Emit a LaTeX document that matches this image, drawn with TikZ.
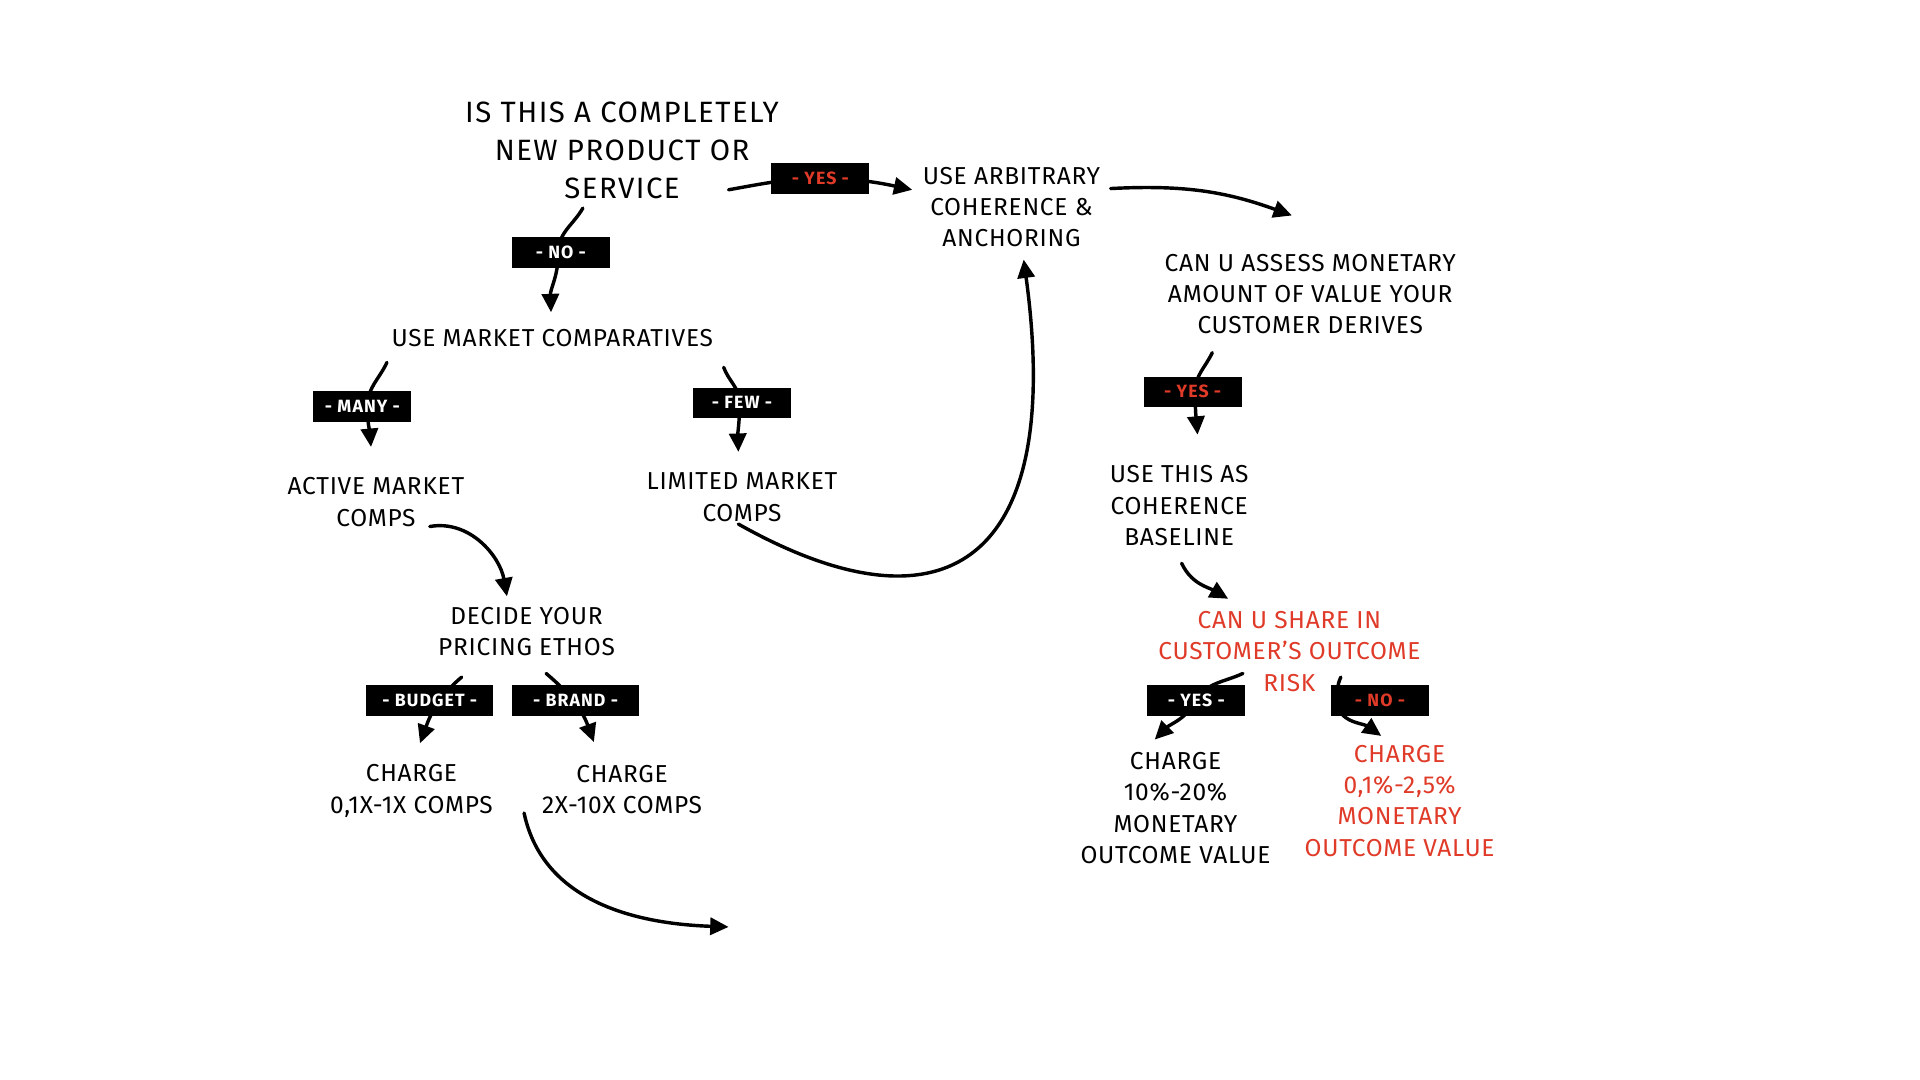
\documentclass[tikz,border=0pt]{standalone}
\usepackage{fontspec}
\setmainfont{Fira Sans}[LetterSpace=3]
\newfontfamily\ttlfont{Fira Sans}[LetterSpace=5]
\newfontfamily\labfont{Fira Sans}[LetterSpace=6]
\usetikzlibrary{arrows.meta,calc}
\definecolor{hred}{RGB}{224,58,40}
\pgfdeclarelayer{back}\pgfdeclarelayer{bg}\pgfsetlayers{back,bg,main}
\begin{document}
\begin{tikzpicture}[x=1pt,y=1pt,
  txt/.style={align=center,inner sep=0pt,font=\fontsize{20}{25.5}\selectfont},
  ttl/.style={align=center,inner sep=0pt,font=\ttlfont\fontsize{24}{31}\selectfont},
  lab/.style={fill=black,text=white,minimum width=80pt,minimum height=25pt,inner sep=0pt,font=\labfont\fontsize{14.5}{15}\selectfont\bfseries},
  wide/.style={minimum width=104pt},
  arr/.style={line width=2.8pt,line cap=round,-{Triangle[length=15pt,width=14pt]}}]
\begin{pgfonlayer}{back}
\fill[white] (0,0) rectangle (1568,882);
\end{pgfonlayer}
\useasboundingbox (0,0) rectangle (1568,882);
% nodes
\node[ttl] (title) at (508,759) {IS THIS A COMPLETELY\\NEW PRODUCT OR\\SERVICE};
\node[lab,text=hred] (yes1) at (670,736) {- YES -};
\node[txt] (arb) at (826,713) {USE ARBITRARY\\COHERENCE \&\\ANCHORING};
\node[txt] (assess) at (1070,642) {CAN U ASSESS MONETARY\\AMOUNT OF VALUE YOUR\\CUSTOMER DERIVES};
\node[lab,text=hred] (yes2) at (974,562) {- YES -};
\node[txt] (base) at (963,469) {USE THIS AS\\COHERENCE\\BASELINE};
\node[txt,text=hred] (share) at (1053,350) {CAN U SHARE IN\\CUSTOMER’S OUTCOME\\RISK};
\node[lab] (yes3) at (977,310) {- YES -};
\node[lab,text=hred] (no3) at (1127,310) {- NO -};
\node[txt] (pct1) at (960,222) {CHARGE\\10\%-20\%\\MONETARY\\OUTCOME VALUE};
\node[txt,text=hred] (pct2) at (1143,228) {CHARGE\\0,1\%-2,5\%\\MONETARY\\OUTCOME VALUE};
\node[lab] (no1) at (458,676) {- NO -};
\node[txt] (umc) at (451,606) {USE MARKET COMPARATIVES};
\node[lab] (many) at (296,550) {- MANY -};
\node[lab] (few) at (606,553) {- FEW -};
\node[txt] (active) at (307,472) {ACTIVE MARKET\\COMPS};
\node[txt] (limited) at (606,476) {LIMITED MARKET\\COMPS};
\node[txt] (decide) at (430,366) {DECIDE YOUR\\PRICING ETHOS};
\node[lab,wide] (budget) at (351,310) {- BUDGET -};
\node[lab,wide] (brand) at (470,310) {- BRAND -};
\node[txt] (cbud) at (336,236) {CHARGE\\0,1X-1X COMPS};
\node[txt] (cbr) at (508,237) {CHARGE\\2X-10X COMPS};
\coordinate (next) at (595,125);
% connectors
\begin{pgfonlayer}{bg}
\draw[arr] ($(title)+(87,-32)$) to[out=10,in=180] (yes1.center) to[out=0,in=168] ($(arb)+(-81,14)$);
\draw[arr] ($(arb)+(81,15)$) to[out=3,in=160] ($(assess)+(-15,64)$);
\draw[arr] ($(assess)+(-80,-48)$) to[out=-115,in=90] ($(yes2)+(2,0)$) to[out=-90,in=95] ($(base)+(15,58)$);
\draw[arr] ($(base)+(2,-47)$) to[out=-65,in=150] ($(share)+(-50,43)$);
\draw[arr] ($(share)+(-38,-18)$) to[out=-155,in=60] (yes3.center) to[out=-120,in=45] ($(pct1)+(-17,56)$);
\draw[arr] ($(share)+(42,-21)$) to[out=-115,in=90] ($(no3)+(-35,0)$) to[out=-90,in=145] ($(pct2)+(-15,53)$);
\draw[arr] ($(title)+(-32,-47)$) to[out=-120,in=90] ($(no1)+(-2,0)$) to[out=-90,in=92] ($(umc)+(-1,21)$);
\draw[arr] ($(umc)+(-135,-20)$) to[out=-115,in=90] ($(many)+(4,0)$) to[out=-90,in=95] ($(active)+(-4,45)$);
\draw[arr] ($(umc)+(140,-24)$) to[out=-70,in=90] ($(few)+(-2,0)$) to[out=-90,in=92] ($(limited)+(-3,37)$);
\draw[arr] ($(active)+(44,-20)$) to[out=10,in=100] ($(decide)+(-16,29)$);
\draw[arr] ($(limited)+(-3,-22)$) .. controls (770,360) and (870,420) .. ($(arb)+(10,-43)$);
\draw[arr] ($(decide)+(-53,-37)$) to[out=-140,in=70] ($(cbud)+(7,39)$);
\draw[arr] ($(decide)+(16,-34)$) to[out=-40,in=110] ($(cbr)+(-23,39)$);
\draw[arr] ($(cbr)+(-80,-19)$) to[out=-78,in=178] (next);
\end{pgfonlayer}
\end{tikzpicture}
\end{document}
